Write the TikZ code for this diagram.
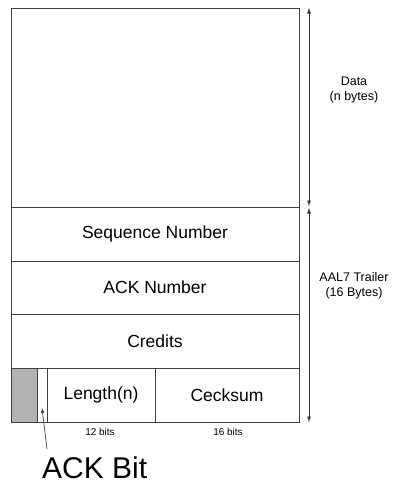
\documentclass[tikz,border=0pt]{standalone}
\usepackage{fontspec}
\setmainfont{Liberation Sans}
\usepackage{tikz}
\usetikzlibrary{arrows}
\tikzstyle{field} = [rectangle, draw=black!75, line width=0.9pt, inner sep=0pt,
                     outer sep=0pt, anchor=north west, text centered,
                     font=\fontsize{17.5}{21}\selectfont]
\tikzstyle{span} = [latex-latex, draw=black!80, line width=0.9pt]
\tikzstyle{side} = [align=center, font=\fontsize{12.5}{15}\selectfont]
\tikzstyle{bits} = [font=\fontsize{10}{12}\selectfont]

\begin{document}
\begin{tikzpicture}[x=1pt, y=-1pt]
\useasboundingbox (0,0) rectangle (398,483);
%Data
\node[field, minimum width=288pt, minimum height=199pt] at (11,8) (data){};
%Trailer
\node[field, minimum width=288pt, minimum height=54pt] at (11,207) (seq){Sequence Number};
\node[field, minimum width=288pt, minimum height=53pt] at (11,261) (ack){ACK Number};
\node[field, minimum width=288pt, minimum height=54pt] at (11,314) (cred){Credits};
\node[field, minimum width=26pt, minimum height=54pt, fill=black!30] at (11,368) (res){};
\node[field, minimum width=10pt, minimum height=54pt] at (37,368) (ackb){};
\node[field, minimum width=108pt, minimum height=54pt] at (47,368) (len){Length(n)};
\node[field, minimum width=144pt, minimum height=54pt] at (155,368) (csum){Cecksum};

\node[bits] at (100,432) (b12){12 bits};
\node[bits] at (228,432) (b16){16 bits};

% size arrows
\coordinate (d1) at (309,8);
\coordinate (d2) at (309,206);
\coordinate (t1) at (309,208);
\coordinate (t2) at (309,422);
\draw[span] (d1) -- (d2);
\draw[span] (t1) -- (t2);
\node[side] at (354,90) (dlab){Data\\(n bytes)};
\node[side] at (354,286) (tlab){AAL7 Trailer\\(16 Bytes)};

% ACK bit
\node[anchor=base west, inner sep=0pt, font=\fontsize{30}{35}\selectfont] at (42,478) (ackbit){ACK Bit};
\coordinate (ackfoot) at (47,449);
\coordinate (acktip) at (42,408);
\draw[-latex, black!75, line width=0.7pt] (ackfoot) -- (acktip);

\end{tikzpicture}
\end{document}
